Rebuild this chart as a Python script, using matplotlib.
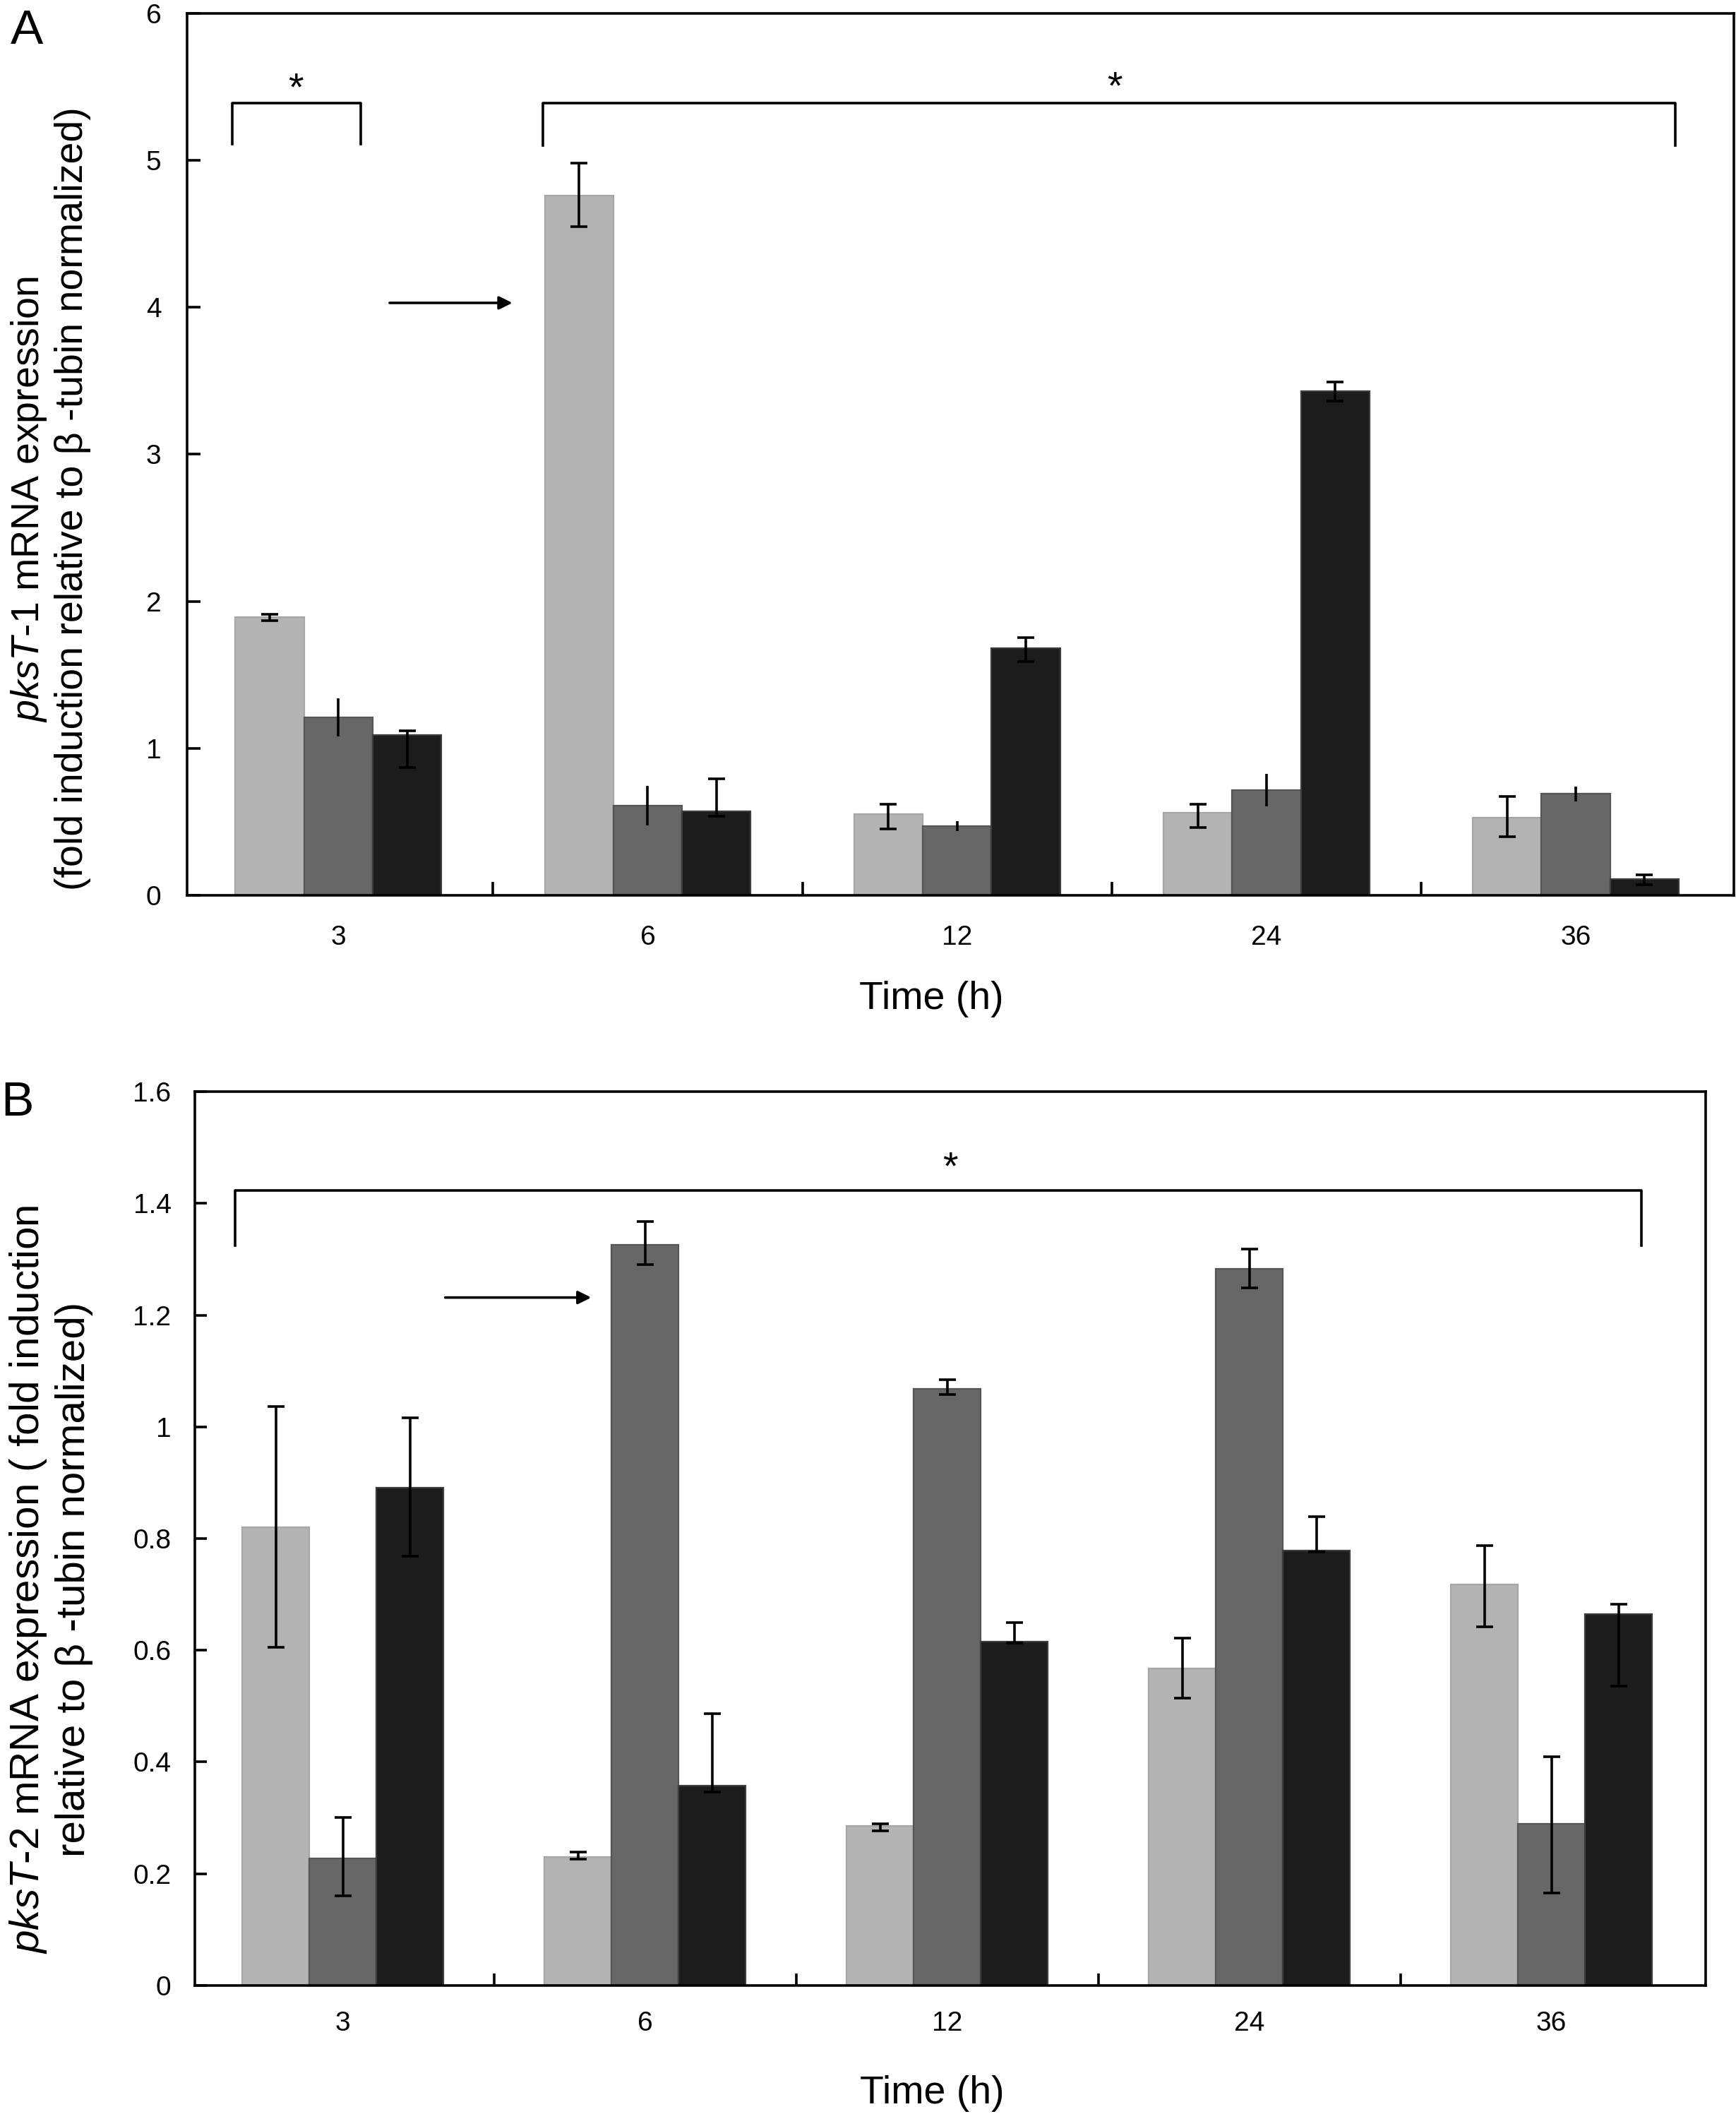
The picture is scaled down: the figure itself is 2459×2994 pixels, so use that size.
import numpy as np
import matplotlib
matplotlib.use("Agg")
import matplotlib.pyplot as plt
from matplotlib.ticker import FixedLocator, NullFormatter

plt.rcParams['font.family'] = 'Liberation Sans'
plt.rcParams['mathtext.fontset'] = 'custom'
plt.rcParams['mathtext.rm'] = 'Liberation Sans'
plt.rcParams['mathtext.it'] = 'Liberation Sans:italic'

# data
times = ['3', '6', '12', '24', '36']

# panel A: pksT-1
a_light = [1.89, 4.76, 0.55, 0.56, 0.53]
a_light_lo = [0.02, 0.21, 0.10, 0.10, 0.13]
a_light_hi = [0.02, 0.22, 0.07, 0.06, 0.14]
a_medium = [1.21, 0.61, 0.47, 0.715, 0.69]
a_medium_err = [0.13, 0.135, 0.035, 0.11, 0.05]
a_dark = [1.09, 0.57, 1.68, 3.43, 0.11]
a_dark_lo = [0.22, 0.03, 0.09, 0.07, 0.04]
a_dark_hi = [0.03, 0.22, 0.075, 0.06, 0.03]

# panel B: pksT-2
b_light = [0.82, 0.23, 0.285, 0.567, 0.718]
b_light_lo = [0.214, 0.004, 0.008, 0.053, 0.076]
b_light_hi = [0.217, 0.009, 0.004, 0.055, 0.070]
b_medium = [0.228, 1.326, 1.068, 1.283, 0.289]
b_medium_lo = [0.068, 0.035, 0.010, 0.034, 0.123]
b_medium_hi = [0.073, 0.041, 0.016, 0.035, 0.120]
b_dark = [0.891, 0.358, 0.615, 0.778, 0.665]
b_dark_lo = [0.123, 0.012, 0.002, 0.002, 0.129]
b_dark_hi = [0.125, 0.128, 0.035, 0.061, 0.017]

colors = ['#b3b3b3', '#676767', '#1b1c1b']
edges = ['#a6a6a6', '#555555', '#3c3c3c']
w = 0.222
x = np.arange(len(times))

fig = plt.figure(figsize=(12.295, 14.97), dpi=200)
axA = fig.add_axes([0.1076, 0.5765, 0.891, 0.4172])
axB = fig.add_axes([0.1122, 0.0608, 0.8703, 0.4228])


def draw_bars(ax, series, errs, caps):
    for i, (vals, err, cap) in enumerate(zip(series, errs, caps)):
        pos = x + (i - 1) * w
        ax.bar(pos, vals, w, color=colors[i], edgecolor=edges[i], linewidth=0.8, zorder=2)
        ax.errorbar(pos, vals, yerr=err, fmt='none', ecolor='black',
                    elinewidth=1.3, capsize=cap, capthick=1.3, zorder=3)


def style_axis(ax, ylim, yticks, ylabels, ytick_size, xtick_size, ypad, xpad, ticklen):
    ax.set_xlim(-0.49, 4.51)
    ax.set_ylim(*ylim)
    for s in ax.spines.values():
        s.set_linewidth(1.3)
    ax.set_yticks(yticks)
    ax.set_yticklabels(ylabels, fontsize=ytick_size)
    ax.set_xticks(x)
    ax.set_xticklabels(times, fontsize=xtick_size)
    ax.xaxis.set_minor_locator(FixedLocator(x[:-1] + 0.5))
    ax.xaxis.set_minor_formatter(NullFormatter())
    ax.tick_params(axis='x', which='major', length=0, pad=xpad)
    ax.tick_params(axis='x', which='minor', direction='in', length=ticklen, width=1.3)
    ax.tick_params(axis='y', direction='in', length=ticklen, width=1.3, pad=ypad)


def bracket(ax, x0, x1, ytop, ybot, star_x, star_y):
    ax.plot([x0, x0, x1, x1], [ybot, ytop, ytop, ybot], color='black', lw=1.3, zorder=4)
    ax.text(star_x, star_y, '*', ha='center', va='center', fontsize=20)


# panel A
draw_bars(axA, [a_light, a_medium, a_dark],
          [[a_light_lo, a_light_hi], a_medium_err, [a_dark_lo, a_dark_hi]],
          [4.3, 0, 4.3])
style_axis(axA, (0, 6), range(7), [str(v) for v in range(7)], 14, 14, 13, 15, 6.8)
bracket(axA, -0.342, 0.073, 5.39, 5.11, -0.137, 5.48)
bracket(axA, 0.662, 4.322, 5.39, 5.10, 2.51, 5.49)
axA.annotate('', xy=(0.575, 4.03), xytext=(0.153, 4.03),
             arrowprops=dict(arrowstyle='-|>', color='black', lw=1.3, mutation_scale=14))
axA.set_xlabel('Time (h)', fontsize=20)
axA.xaxis.set_label_coords(0.4815, -0.097)
fig.text(0.0289, 0.764, '$\\mathit{pksT}$-1 mRNA expression\n(fold induction relative to β -tubin normalized)',
         rotation=90, ha='center', va='center', multialignment='center', fontsize=20)
fig.text(0.006, 0.9793, 'A', fontsize=25, ha='left', va='baseline')

# panel B
draw_bars(axB, [b_light, b_medium, b_dark],
          [[b_light_lo, b_light_hi], [b_medium_lo, b_medium_hi], [b_dark_lo, b_dark_hi]],
          [4.3, 4.3, 4.3])
b_ticks = [0, 0.2, 0.4, 0.6, 0.8, 1.0, 1.2, 1.4, 1.6]
b_labels = ['0', '0.2', '0.4', '0.6', '0.8', '1', '1.2', '1.4', '1.6']
style_axis(axB, (0, 1.6), b_ticks, b_labels, 14, 14, 12, 13, 6)
bracket(axB, -0.356, 4.297, 1.4226, 1.324, 2.01, 1.462)
axB.annotate('', xy=(0.835, 1.2315), xytext=(0.326, 1.2315),
             arrowprops=dict(arrowstyle='-|>', color='black', lw=1.3, mutation_scale=14))
axB.set_xlabel('Time (h)', fontsize=20)
axB.xaxis.set_label_coords(0.488, -0.10)
fig.text(0.029, 0.2528, '$\\mathit{pksT}$-2 mRNA expression ( fold induction\nrelative to β -tubin normalized)',
         rotation=90, ha='center', va='center', multialignment='center', fontsize=21)
fig.text(0.0005, 0.4723, 'B', fontsize=25, ha='left', va='baseline')

fig.savefig('out.png', dpi=200)
